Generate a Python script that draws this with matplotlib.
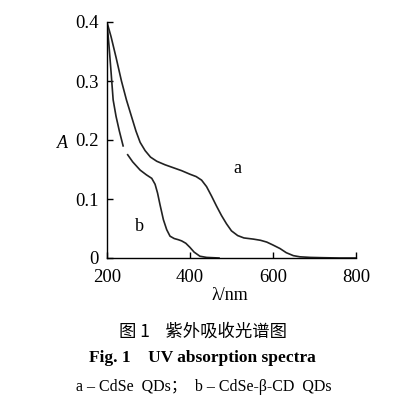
import numpy as np
import matplotlib
matplotlib.use('Agg')
import matplotlib.pyplot as plt

plt.rcParams['font.family'] = ['Liberation Serif', 'Noto Sans CJK SC', 'DejaVu Sans']
plt.rcParams['mathtext.fontset'] = 'stix'

# curve a: CdSe QDs
wl_a = [200, 210, 222, 235, 247, 260, 270, 280, 292, 305, 320, 340, 360, 380,
        400, 415, 428, 440, 452, 464, 476, 488, 500, 515, 530, 553, 570, 585,
        600, 617, 632, 649, 665, 690, 720, 760, 800]
abs_a = [0.400, 0.375, 0.340, 0.300, 0.268, 0.238, 0.215, 0.196, 0.182, 0.171,
         0.164, 0.158, 0.153, 0.148, 0.142, 0.138, 0.132, 0.121, 0.105, 0.088,
         0.072, 0.058, 0.046, 0.038, 0.034, 0.032, 0.030, 0.027, 0.022, 0.016,
         0.009, 0.004, 0.002, 0.001, 0.0005, 0.0, 0.0]

# curve b: CdSe-beta-CD QDs (gap in the trace near 244 nm)
wl_b = [200, 205, 210, 215, 222, 230, 239, 244, 250, 262, 280, 295, 308, 316,
        322, 328, 336, 344, 352, 362, 372, 380, 390, 400, 410, 424, 440, 470]
abs_b = [0.400, 0.360, 0.315, 0.268, 0.240, 0.215, 0.190, np.nan, 0.175, 0.163,
         0.149, 0.141, 0.135, 0.125, 0.110, 0.090, 0.065, 0.048, 0.037, 0.033,
         0.031, 0.029, 0.025, 0.018, 0.010, 0.003, 0.001, 0.0]

fig = plt.figure(figsize=(3.96, 4.0), dpi=100)
ax = fig.add_axes([0.270, 0.355, 0.629, 0.590])
ax.plot(wl_a, abs_a, color='#222222', lw=1.2)
ax.plot(wl_b, abs_b, color='#222222', lw=1.2)

ax.set_xlim(200, 800)
ax.set_ylim(0, 0.4)
ax.set_xticks([200, 400, 600, 800])
ax.set_yticks([0, 0.1, 0.2, 0.3, 0.4])
ax.set_yticklabels(['0', '0.1', '0.2', '0.3', '0.4'])
for s in ['top', 'right']:
    ax.spines[s].set_visible(False)
for s in ['left', 'bottom']:
    ax.spines[s].set_linewidth(1.0)
ax.tick_params(direction='in', length=4, width=1.0, labelsize=13.5)
ax.tick_params(axis='x', pad=8)
ax.tick_params(axis='y', pad=6)

ax.text(504, 0.144, 'a', fontsize=13)
ax.text(267, 0.045, 'b', fontsize=13)

fig.text(62 / 396, 1 - 143 / 400, 'A', fontsize=13, style='italic',
         ha='center', va='center')
fig.text(230 / 396, 1 - 295 / 400, 'λ/nm', fontsize=13, ha='center', va='center')

fig.text(203 / 396, 1 - 332 / 400, '图 1    紫外吸收光谱图', fontsize=12.5,
         family=['Noto Sans CJK SC', 'DejaVu Sans'], ha='center', va='center')
fig.text(202 / 396, 1 - 358 / 400, 'Fig. 1    UV absorption spectra', fontsize=12.5,
         weight='bold', ha='center', va='center')
fig.text(204 / 396, 1 - 387 / 400, 'a – CdSe  QDs；  b – CdSe-β-CD  QDs', fontsize=11.5,
         family=['Liberation Serif', 'Noto Sans CJK SC'], ha='center', va='center')

fig.savefig('out.png', dpi=100)
